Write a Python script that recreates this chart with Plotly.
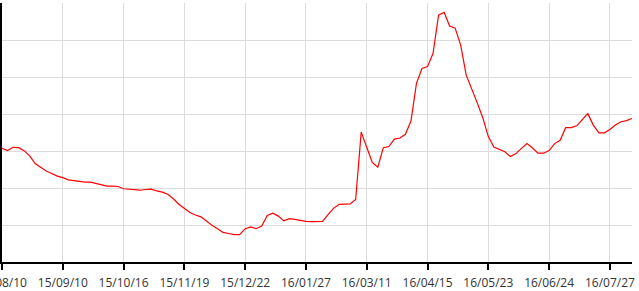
import plotly.graph_objects as go

# Series values, one point per step; 11 steps between labelled ticks
values = [
    3.07, 3.01, 3.10, 3.09, 3.01, 2.87, 2.66, 2.56, 2.46, 2.39,
    2.32, 2.28, 2.22, 2.20, 2.17, 2.16, 2.16, 2.12, 2.10, 2.05,
    2.05, 2.04, 1.98, 1.97, 1.94, 1.94, 1.96, 1.97, 1.92, 1.89,
    1.83, 1.71, 1.56, 1.46, 1.34, 1.27, 1.22, 1.11, 0.99, 0.90,
    0.80, 0.77, 0.74, 0.74, 0.90, 0.95, 0.90, 0.97, 1.26, 1.32,
    1.24, 1.11, 1.17, 1.15, 1.12, 1.10, 1.09, 1.09, 1.10, 1.28,
    1.45, 1.56, 1.57, 1.57, 1.69, 3.51, 3.10, 2.69, 2.56, 3.09,
    3.12, 3.32, 3.35, 3.45, 3.81, 4.83, 5.23, 5.28, 5.64, 6.67,
    6.75, 6.38, 6.32, 5.86, 5.05, 4.70, 4.30, 3.90, 3.39, 3.11,
    3.05, 2.98, 2.85, 2.93, 3.07, 3.20, 3.08, 2.94, 2.94, 3.01,
    3.20, 3.29, 3.63, 3.63, 3.68, 3.86, 4.01, 3.70, 3.49, 3.49,
    3.58, 3.70, 3.79, 3.82, 3.88,
]
x_index = list(range(len(values)))

tick_labels = [
    "15/08/10", "15/09/10", "15/10/16", "15/11/19", "15/12/22", "16/01/27",
    "16/03/11", "16/04/15", "16/05/23", "16/06/24", "16/07/27",
]
tick_step = 11
tick_positions = [i * tick_step for i in range(len(tick_labels))]

fig = go.Figure()
fig.add_trace(go.Scatter(
    x=x_index, y=values, mode="lines",
    line=dict(color="#ff0000", width=1.2),
    hoverinfo="skip", showlegend=False,
))

fig.update_layout(
    width=639, height=291,
    margin=dict(l=2, r=7, t=3, b=29),
    paper_bgcolor="white", plot_bgcolor="white",
    font=dict(family="Open Sans", size=12, color="#333333"),
    showlegend=False,
)
fig.update_xaxes(
    range=[0, len(values) - 1], automargin=False,
    tickmode="array", tickvals=tick_positions, ticktext=tick_labels,
    showgrid=True, gridcolor="#dcdcdc", gridwidth=1,
    showline=True, linecolor="black", linewidth=2,
    ticks="outside", ticklen=6, tickwidth=2, tickcolor="black",
    ticklabeloverflow="allow", ticklabelstandoff=3,
    zeroline=False,
)
fig.update_yaxes(
    range=[0, 7], dtick=1, tick0=0, automargin=False,
    showgrid=True, gridcolor="#dcdcdc", gridwidth=1,
    showline=True, linecolor="black", linewidth=2,
    ticks="outside", ticklen=5, tickwidth=1, tickcolor="black",
    showticklabels=False, zeroline=False,
)

fig.write_html("out.html")
